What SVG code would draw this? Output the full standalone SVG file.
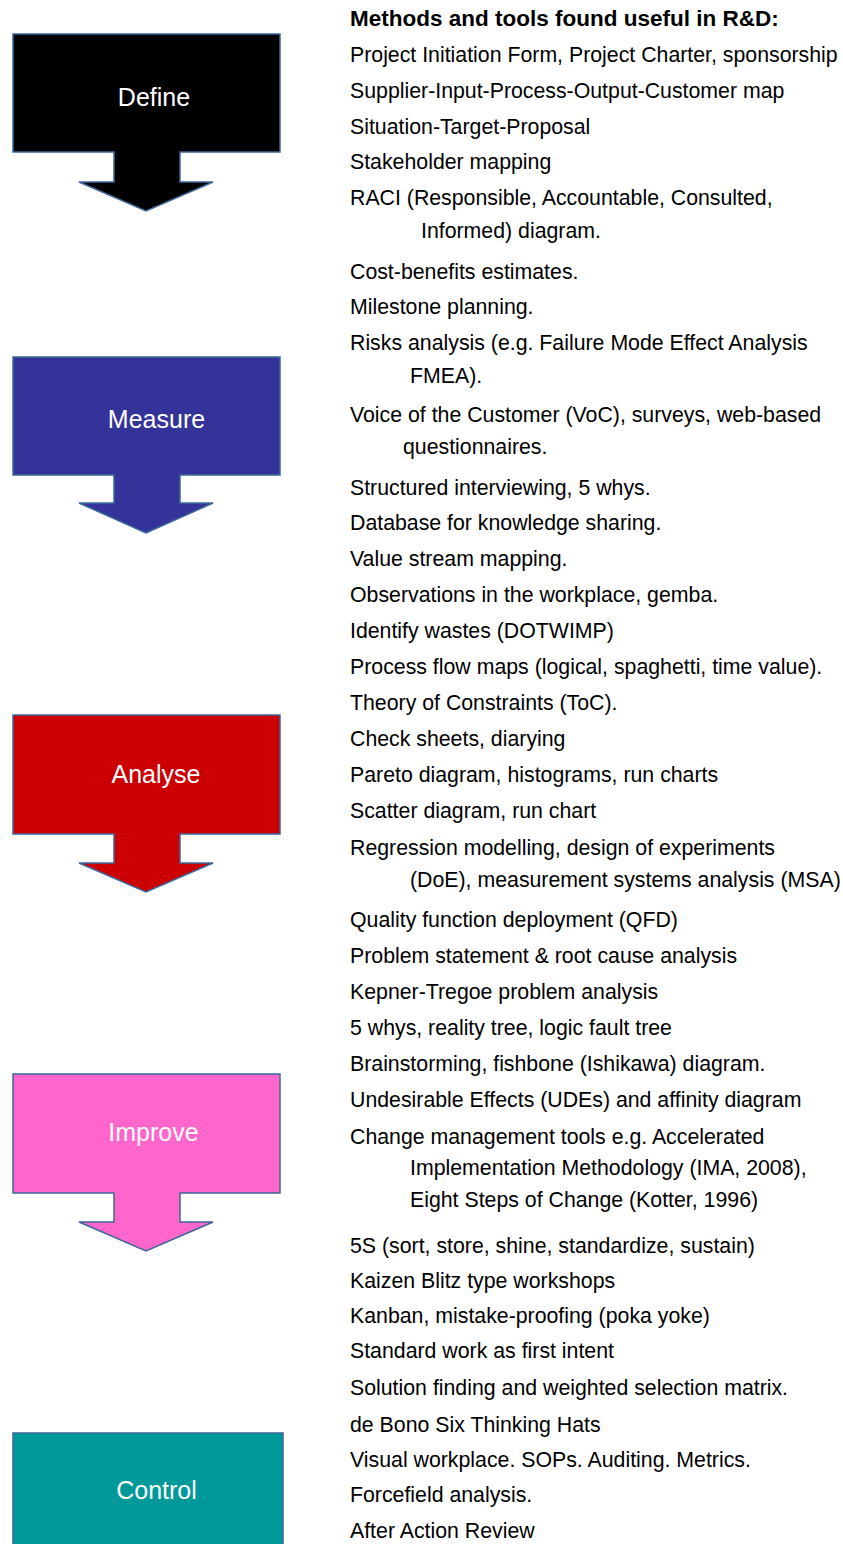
<svg xmlns="http://www.w3.org/2000/svg" width="843" height="1544" viewBox="0 0 843 1544">
<style>
.shape{stroke:#3b679c;stroke-width:1.5;stroke-linejoin:miter}
.lbl{font-family:"Liberation Sans",Arial,Helvetica,sans-serif;font-size:25px;fill:#ffffff;text-anchor:middle}
.t{font-family:"Liberation Sans",Arial,Helvetica,sans-serif;font-size:21.3px;fill:#000000}
.h{font-family:"Liberation Sans",Arial,Helvetica,sans-serif;font-size:22.5px;font-weight:bold;fill:#000000}
</style>
<rect width="843" height="1544" fill="#ffffff"/>
<g id="define">
<path class="shape" fill="#000000" d="M13,34 H280 V152 H180 V182 H213 L146,211 L79,182 H114 V152 H13 Z"/>
<text class="lbl" x="154" y="106">Define</text>
</g>
<g id="measure">
<path class="shape" fill="#333399" d="M13,357 H280 V475 H180 V503 H213 L146,533 L79,503 H114 V475 H13 Z"/>
<text class="lbl" x="156.5" y="428">Measure</text>
</g>
<g id="analyse">
<path class="shape" fill="#cc0000" d="M13,715 H280 V834 H180 V863 H213 L146,892 L79,863 H114 V834 H13 Z"/>
<text class="lbl" x="156" y="782.5">Analyse</text>
</g>
<g id="improve">
<path class="shape" fill="#ff66cc" d="M13,1074 H280 V1193 H180 V1222 H213 L146,1251 L79,1222 H114 V1193 H13 Z"/>
<text class="lbl" x="153.5" y="1141">Improve</text>
</g>
<g id="control">
<path class="shape" fill="#009999" d="M13,1433 H283 V1560 H13 Z"/>
<text class="lbl" x="156.5" y="1499">Control</text>
</g>
<g id="connectors"></g>
<g id="methods">
<text class="h" x="350" y="26">Methods and tools found useful in R&amp;D:</text>
<text class="t" x="350" y="62">Project Initiation Form, Project Charter, sponsorship</text>
<text class="t" x="350" y="98">Supplier-Input-Process-Output-Customer map</text>
<text class="t" x="350" y="134">Situation-Target-Proposal</text>
<text class="t" x="350" y="169">Stakeholder mapping</text>
<text class="t" x="350" y="205">RACI (Responsible, Accountable, Consulted,</text>
<text class="t" x="421" y="238">Informed) diagram.</text>
<text class="t" x="350" y="279">Cost-benefits estimates.</text>
<text class="t" x="350" y="314">Milestone planning.</text>
<text class="t" x="350" y="350">Risks analysis (e.g. Failure Mode Effect Analysis</text>
<text class="t" x="410" y="383">FMEA).</text>
<text class="t" x="350" y="422">Voice of the Customer (VoC), surveys, web-based</text>
<text class="t" x="403" y="454">questionnaires.</text>
<text class="t" x="350" y="495">Structured interviewing, 5 whys.</text>
<text class="t" x="350" y="530">Database for knowledge sharing.</text>
<text class="t" x="350" y="566">Value stream mapping.</text>
<text class="t" x="350" y="602">Observations in the workplace, gemba.</text>
<text class="t" x="350" y="638">Identify wastes (DOTWIMP)</text>
<text class="t" x="350" y="674">Process flow maps (logical, spaghetti, time value).</text>
<text class="t" x="350" y="710">Theory of Constraints (ToC).</text>
<text class="t" x="350" y="746">Check sheets, diarying</text>
<text class="t" x="350" y="782">Pareto diagram, histograms, run charts</text>
<text class="t" x="350" y="818">Scatter diagram, run chart</text>
<text class="t" x="350" y="855">Regression modelling, design of experiments</text>
<text class="t" x="410" y="887">(DoE), measurement systems analysis (MSA)</text>
<text class="t" x="350" y="927">Quality function deployment (QFD)</text>
<text class="t" x="350" y="963">Problem statement &amp; root cause analysis</text>
<text class="t" x="350" y="999">Kepner-Tregoe problem analysis</text>
<text class="t" x="350" y="1035">5 whys, reality tree, logic fault tree</text>
<text class="t" x="350" y="1071">Brainstorming, fishbone (Ishikawa) diagram.</text>
<text class="t" x="350" y="1107">Undesirable Effects (UDEs) and affinity diagram</text>
<text class="t" x="350" y="1144">Change management tools e.g. Accelerated</text>
<text class="t" x="410" y="1175">Implementation Methodology (IMA, 2008),</text>
<text class="t" x="410" y="1207">Eight Steps of Change (Kotter, 1996)</text>
<text class="t" x="350" y="1253">5S (sort, store, shine, standardize, sustain)</text>
<text class="t" x="350" y="1288">Kaizen Blitz type workshops</text>
<text class="t" x="350" y="1323">Kanban, mistake-proofing (poka yoke)</text>
<text class="t" x="350" y="1358">Standard work as first intent</text>
<text class="t" x="350" y="1395">Solution finding and weighted selection matrix.</text>
<text class="t" x="350" y="1432">de Bono Six Thinking Hats</text>
<text class="t" x="350" y="1467">Visual workplace. SOPs. Auditing. Metrics.</text>
<text class="t" x="350" y="1502">Forcefield analysis.</text>
<text class="t" x="350" y="1538">After Action Review</text>
</g>
</svg>
